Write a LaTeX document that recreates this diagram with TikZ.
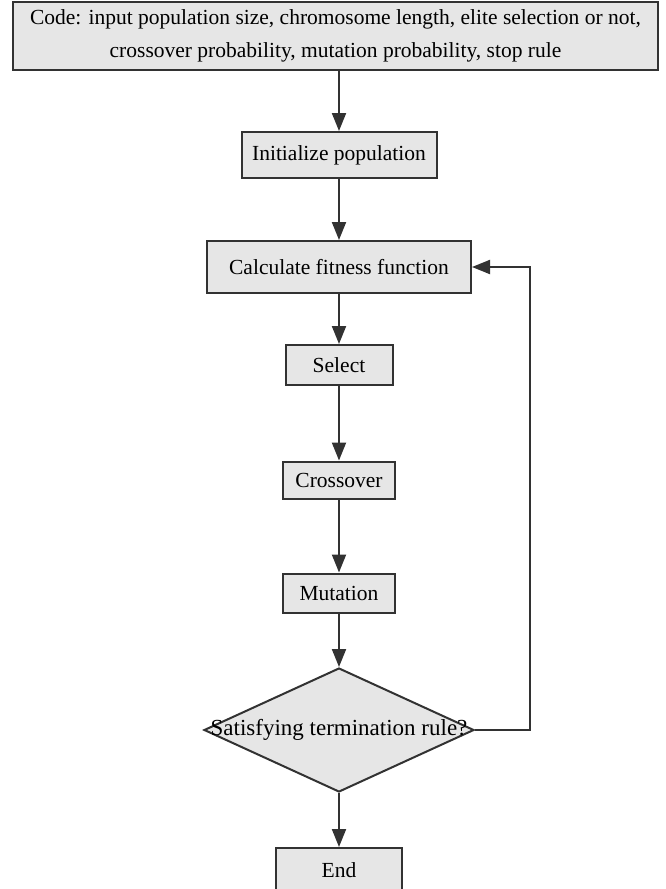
\documentclass[tikz,border=0pt]{standalone}
\usepackage{fontspec}
\setmainfont{Liberation Serif}
\usetikzlibrary{shapes.geometric,arrows.meta}
\definecolor{boxgray}{RGB}{230,230,230}
\definecolor{linegray}{RGB}{50,50,50}

\begin{document}
\begin{tikzpicture}[x=1pt,y=-1pt,
    process/.style ={rectangle, draw=linegray, fill=boxgray, line width=2pt, inner sep=0pt, font=\fontsize{21.5}{26}\selectfont},
    decision/.style ={diamond, draw=linegray, fill=boxgray, line width=2pt, inner sep=0pt, minimum width=270pt, minimum height=124pt},
    flow/.style ={draw=linegray, line width=2pt, -{Triangle[length=18pt,width=14pt]}}]
   \useasboundingbox (0,0) rectangle (665,889);
   \node[process, minimum width=645pt, minimum height=68pt, align=center, font=\fontsize{21.5}{33}\selectfont] (code) at (335.5,36) {Code: input population size, chromosome length, elite selection or not,\\crossover probability, mutation probability, stop rule};
   \node[process, minimum width=195pt, minimum height=46pt] (init) at (339,155) {Initialize population};
   \node[process, minimum width=264pt, minimum height=52pt] (calc) at (339,267) {Calculate fitness function};
   \node[process, minimum width=107pt, minimum height=40pt] (select) at (339,365) {Select};
   \node[process, minimum width=112pt, minimum height=37pt] (cross) at (339,480) {Crossover};
   \node[process, minimum width=112pt, minimum height=39pt] (mutate) at (339,593) {Mutation};
   \node[decision, label={[font=\fontsize{23}{27}\selectfont]center:Satisfying termination rule?}] (check) at (339,730) {};
   \node[process, minimum width=126pt, minimum height=44pt] (finish) at (339,870) {End};
   \coordinate (back) at (530,730);

   \draw[flow] (code.south -| init.north) to (init);
   \draw[flow] (init) to (calc);
   \draw[flow] (calc) to (select);
   \draw[flow] (select) to (cross);
   \draw[flow] (cross) to (mutate);
   \draw[flow] (mutate) to (check);
   \draw[flow] (check) to (finish);
   \draw[flow] (check.east) -- (back) |- (calc.east);
 \end{tikzpicture}
\end{document}
